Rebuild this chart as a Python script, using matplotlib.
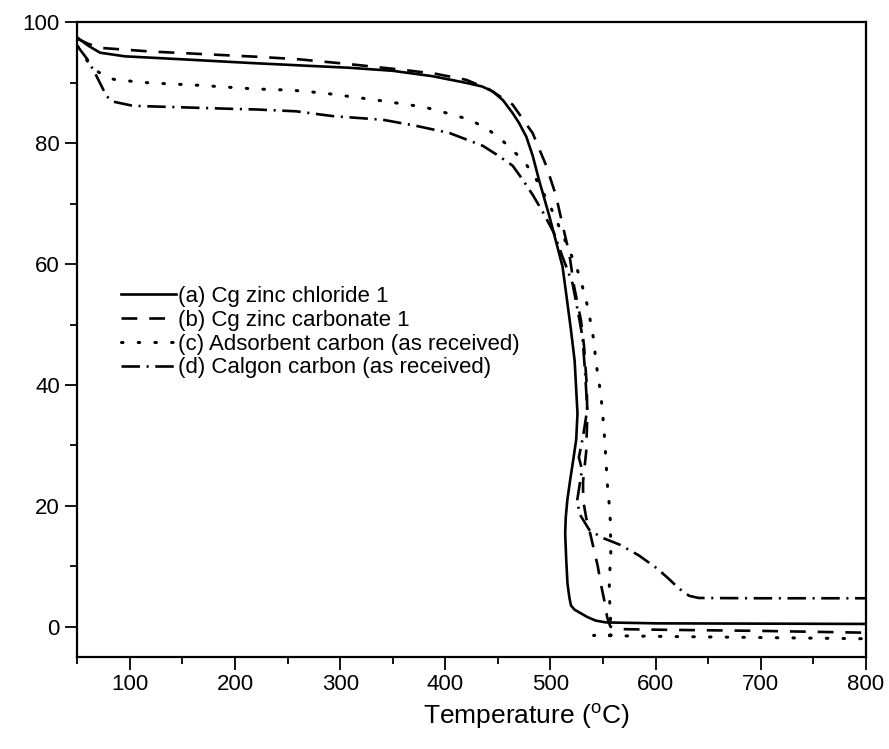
import matplotlib
matplotlib.use("Agg")
import matplotlib.pyplot as plt

# TGA weight-loss curves, temperature in degC and residual weight in %
a_temp = [50, 60, 71.5, 95, 150, 214, 261, 309, 350, 388, 420, 435, 445, 455, 464,
          470, 477, 483, 489, 499, 511.5, 519.5, 523, 525.7, 524.5, 522, 518.5, 516,
          514.5, 514, 515, 516.2, 518, 519.5, 523, 527, 535, 543, 553, 600, 700, 800]
a_weight = [97.5, 96.2, 95.0, 94.4, 93.9, 93.3, 92.9, 92.5, 92.0, 91.1, 90.0, 89.4,
            88.6, 87.1, 85.0, 83.4, 81.1, 78.0, 74.0, 67.9, 59.6, 49.1, 44.0, 35.3,
            31.0, 28.0, 24.0, 20.9, 18.0, 15.4, 11.0, 7.1, 4.8, 3.5, 2.8, 2.4, 1.6,
            1.0, 0.7, 0.55, 0.5, 0.45]

b_temp = [50, 60, 71.5, 119, 223.5, 261, 309, 362.7, 391, 420, 442, 464, 483, 495.7,
          505, 511.5, 517.8, 522.5, 529, 532, 534.5, 535, 534, 531, 531, 534, 537,
          541, 545, 548, 551, 554, 557, 565, 600, 700, 800]
b_weight = [97.3, 96.5, 95.8, 95.2, 94.3, 93.9, 93.1, 92.1, 91.5, 90.5, 88.9, 86.4,
            81.7, 76.4, 71.5, 66.5, 61.8, 56.3, 50.7, 46.3, 40.0, 35.0, 29.0, 24.0,
            21.0, 18.0, 16.0, 13.0, 10.0, 7.0, 4.5, 1.5, 0.0, -0.4, -0.5, -0.7, -1.0]

c_temp = [50, 60, 70, 80, 87, 119, 166, 218.6, 253.5, 285, 332.6, 380, 410, 424.5,
          438.7, 451, 475, 486, 500, 510, 517.7, 525.7, 530.4, 535, 538.4, 541.5, 543,
          548, 551, 554.2, 555.8, 557, 557.4, 556, 556, 557.4, 557.5, 541, 600, 700, 800]
c_weight = [96.1, 93.5, 91.8, 90.8, 90.5, 90.0, 89.6, 89.0, 88.8, 88.3, 87.2, 86.0,
            84.6, 83.8, 82.5, 81.0, 77.0, 74.2, 69.5, 65.5, 62.4, 59.0, 56.3, 53.2,
            50.2, 47.1, 44.1, 38.3, 32.5, 23.4, 20.4, 17.3, 11.5, 8.2, 5.5, 0.0, -1.4,
            -1.45, -1.6, -1.8, -2.0]

d_temp = [50, 60, 68.3, 77.8, 84, 103, 141, 198, 220, 258, 293, 340.5, 372, 404,
          435.5, 450, 464, 473.5, 483, 492.5, 503.5, 511.5, 521, 527, 530.4, 533, 535,
          531, 527, 530, 525.5, 527.5, 537, 549.5, 565.5, 584, 601.7, 612, 622.3, 632,
          641, 700, 800]
d_weight = [96.1, 93.8, 91.1, 87.8, 86.9, 86.2, 86.0, 85.7, 85.6, 85.3, 84.5, 83.9,
            82.9, 81.7, 79.6, 78.0, 76.3, 74.0, 71.5, 68.7, 65.1, 61.2, 56.8, 51.3,
            48.0, 42.0, 36.0, 31.5, 28.0, 26.0, 21.0, 18.7, 16.0, 14.7, 13.6, 11.8,
            9.6, 8.0, 6.3, 5.1, 4.75, 4.7, 4.7]

labels = [
    "(a) Cg zinc chloride 1",
    "(b) Cg zinc carbonate 1",
    "(c) Adsorbent carbon (as received)",
    "(d) Calgon carbon (as received)",
]

plt.rcParams["font.family"] = ["Liberation Sans", "DejaVu Sans"]
plt.rcParams["mathtext.fontset"] = "custom"
plt.rcParams["mathtext.rm"] = "Liberation Sans"

fig = plt.figure(figsize=(8.89, 7.49), dpi=100)
ax = fig.add_axes([0.087, 0.123, 0.887, 0.847])

lw = 1.9
ax.plot(a_temp, a_weight, color="black", lw=lw, ls="-", label=labels[0])
ax.plot(b_temp, b_weight, color="black", lw=lw, dashes=(6, 4.5), label=labels[1])
ax.plot(c_temp, c_weight, color="black", lw=lw * 1.15, dashes=(0.5, 5.0),
        dash_capstyle="round", label=labels[2])
ax.plot(d_temp, d_weight, color="black", lw=lw, dashes=(7, 2.5, 0.8, 2.5),
        label=labels[3])

ax.set_xlim(50, 800)
ax.set_ylim(-5, 100)
ax.set_xticks([100, 200, 300, 400, 500, 600, 700, 800])
ax.set_xticks(range(50, 801, 50), minor=True)
ax.set_yticks([0, 20, 40, 60, 80, 100])
ax.set_yticks(range(0, 101, 10), minor=True)

ax.tick_params(which="both", direction="out", width=1.3, labelsize=16,
               top=False, right=False, colors="black")
ax.tick_params(which="major", length=9)
ax.tick_params(which="minor", length=5)
for side in ax.spines.values():
    side.set_linewidth(1.6)

ax.set_xlabel(r"Temperature ($^{\rm o}$C)", fontsize=19)
ax.xaxis.set_label_coords(0.57, -0.07)

ax.legend(loc="upper left", bbox_to_anchor=(0.055, 0.585), frameon=False,
          fontsize=16, handlelength=2.5, handletextpad=0.1, labelspacing=0.13,
          borderpad=0, borderaxespad=0)

fig.savefig("out.png", dpi=100)
